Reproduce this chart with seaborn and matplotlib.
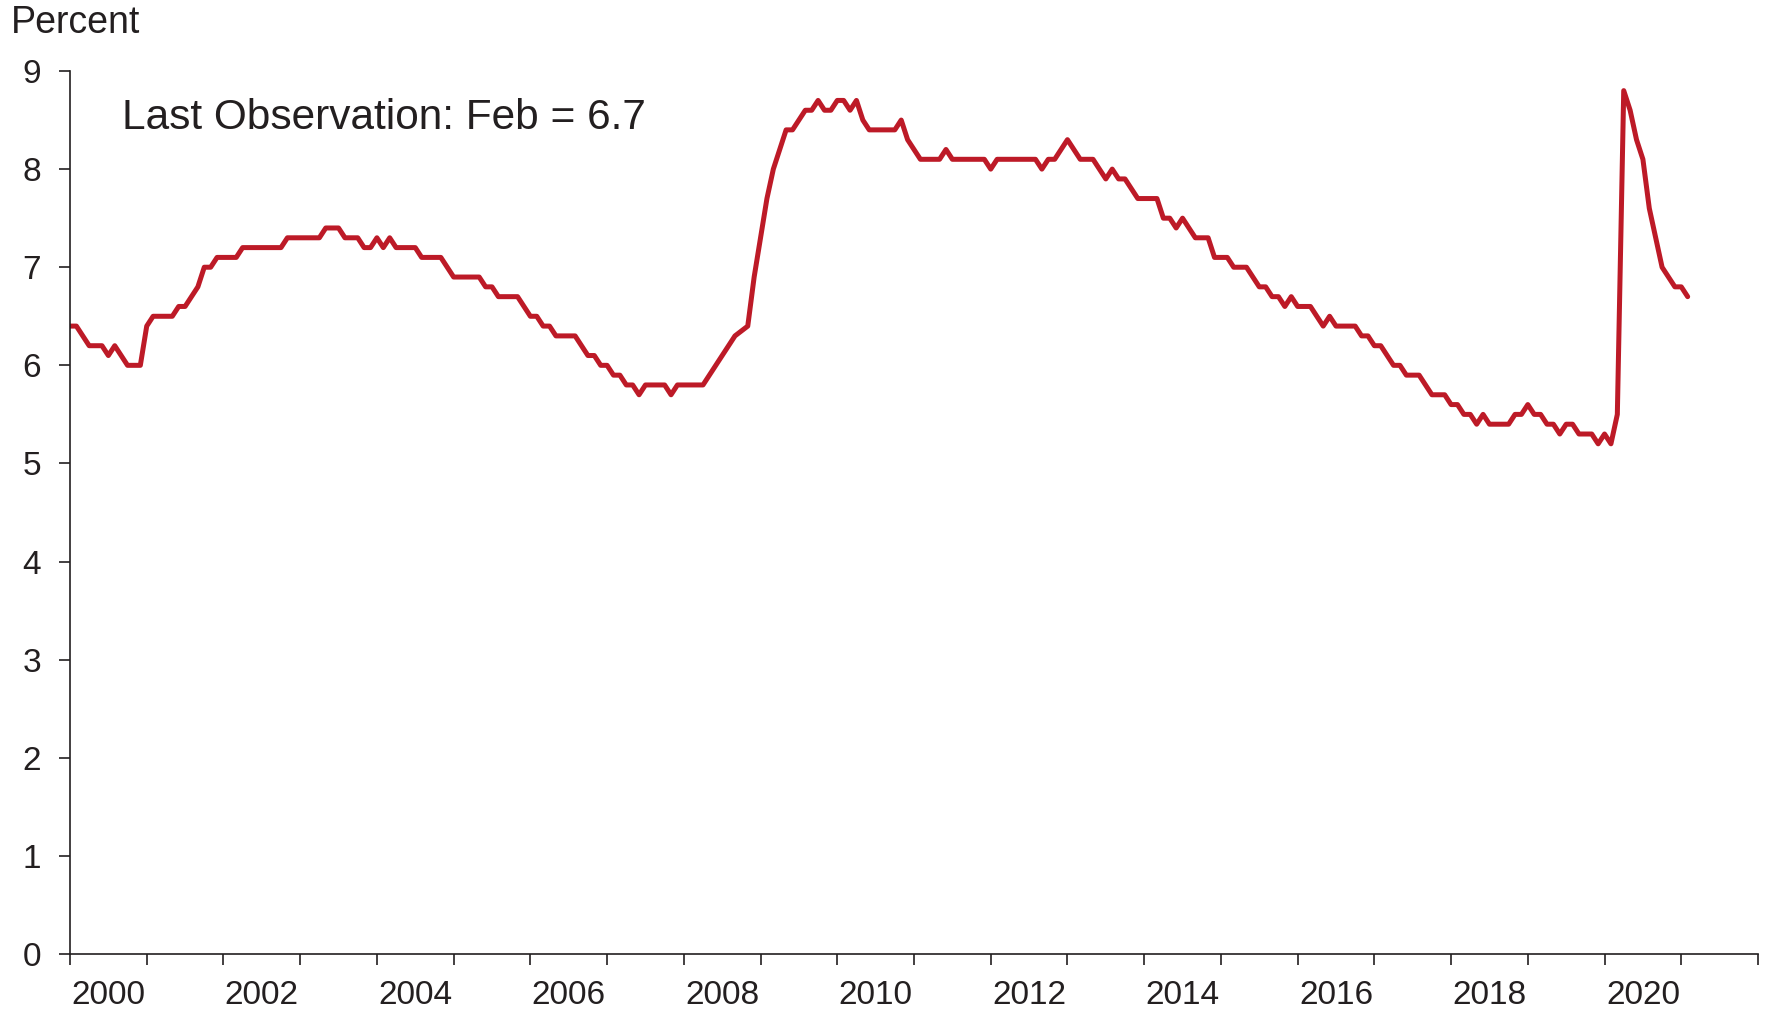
import numpy as np
import pandas as pd
import matplotlib
matplotlib.use("Agg")
import matplotlib.pyplot as plt
import seaborn as sns
from matplotlib import font_manager
from matplotlib.ticker import MultipleLocator, FixedLocator, FixedFormatter, NullFormatter

# monthly values (percent), Jan 2000 - Feb 2021
y2000 = [6.4, 6.4, 6.3, 6.2, 6.2, 6.2, 6.1, 6.2, 6.1, 6.0, 6.0, 6.0]
y2001 = [6.4, 6.5, 6.5, 6.5, 6.5, 6.6, 6.6, 6.7, 6.8, 7.0, 7.0, 7.1]
y2002 = [7.1, 7.1, 7.1, 7.2, 7.2, 7.2, 7.2, 7.2, 7.2, 7.2, 7.3, 7.3]
y2003 = [7.3, 7.3, 7.3, 7.3, 7.4, 7.4, 7.4, 7.3, 7.3, 7.3, 7.2, 7.2]
y2004 = [7.3, 7.2, 7.3, 7.2, 7.2, 7.2, 7.2, 7.1, 7.1, 7.1, 7.1, 7.0]
y2005 = [6.9, 6.9, 6.9, 6.9, 6.9, 6.8, 6.8, 6.7, 6.7, 6.7, 6.7, 6.6]
y2006 = [6.5, 6.5, 6.4, 6.4, 6.3, 6.3, 6.3, 6.3, 6.2, 6.1, 6.1, 6.0]
y2007 = [6.0, 5.9, 5.9, 5.8, 5.8, 5.7, 5.8, 5.8, 5.8, 5.8, 5.7, 5.8]
y2008 = [5.8, 5.8, 5.8, 5.8, 5.9, 6.0, 6.1, 6.2, 6.3, 6.35, 6.4, 6.9]
y2009 = [7.3, 7.7, 8.0, 8.2, 8.4, 8.4, 8.5, 8.6, 8.6, 8.7, 8.6, 8.6]
y2010 = [8.7, 8.7, 8.6, 8.7, 8.5, 8.4, 8.4, 8.4, 8.4, 8.4, 8.5, 8.3]
y2011 = [8.2, 8.1, 8.1, 8.1, 8.1, 8.2, 8.1, 8.1, 8.1, 8.1, 8.1, 8.1]
y2012 = [8.0, 8.1, 8.1, 8.1, 8.1, 8.1, 8.1, 8.1, 8.0, 8.1, 8.1, 8.2]
y2013 = [8.3, 8.2, 8.1, 8.1, 8.1, 8.0, 7.9, 8.0, 7.9, 7.9, 7.8, 7.7]
y2014 = [7.7, 7.7, 7.7, 7.5, 7.5, 7.4, 7.5, 7.4, 7.3, 7.3, 7.3, 7.1]
y2015 = [7.1, 7.1, 7.0, 7.0, 7.0, 6.9, 6.8, 6.8, 6.7, 6.7, 6.6, 6.7]
y2016 = [6.6, 6.6, 6.6, 6.5, 6.4, 6.5, 6.4, 6.4, 6.4, 6.4, 6.3, 6.3]
y2017 = [6.2, 6.2, 6.1, 6.0, 6.0, 5.9, 5.9, 5.9, 5.8, 5.7, 5.7, 5.7]
y2018 = [5.6, 5.6, 5.5, 5.5, 5.4, 5.5, 5.4, 5.4, 5.4, 5.4, 5.5, 5.5]
y2019 = [5.6, 5.5, 5.5, 5.4, 5.4, 5.3, 5.4, 5.4, 5.3, 5.3, 5.3, 5.2]
y2020 = [5.3, 5.2, 5.5, 8.8, 8.6, 8.3, 8.1, 7.6, 7.3, 7.0, 6.9, 6.8]
y2021 = [6.8, 6.7]

year_labels = ["2000", "2002", "2004", "2006", "2008", "2010",
               "2012", "2014", "2016", "2018", "2020"]
y_ticks = [0, 1, 2, 3, 4, 5, 6, 7, 8, 9]
note = "Last Observation: Feb = 6.7"

values = (y2000 + y2001 + y2002 + y2003 + y2004 + y2005 + y2006 + y2007
          + y2008 + y2009 + y2010 + y2011 + y2012 + y2013 + y2014 + y2015
          + y2016 + y2017 + y2018 + y2019 + y2020 + y2021)
df = pd.DataFrame({"date": 2000 + np.arange(len(values)) / 12, "rate": values})

sns.set_style("ticks")
plt.rcParams["font.family"] = ["Liberation Sans", "DejaVu Sans"]
text_color = "#231F20"

# tick numbers in the reference are a narrow face
installed = {f.name for f in font_manager.fontManager.ttflist}
if "Liberation Sans Narrow" in installed:
    tick_font, tick_size = "Liberation Sans Narrow", 26
else:
    tick_font, tick_size = "Liberation Sans", 24

fig = plt.figure(figsize=(17.71, 10.17), dpi=100)
ax = fig.add_axes([70 / 1771, 1 - 954 / 1017, (1758 - 70) / 1771, (954 - 71) / 1017])

sns.lineplot(data=df, x="date", y="rate", color="#BD1A27", linewidth=3.6, ax=ax)

ax.set_xlim(2000, 2022)
ax.set_ylim(0, 9)
ax.set_xlabel("")
ax.set_ylabel("")

# year boundaries get tick marks, labels sit mid-year
ax.xaxis.set_major_locator(MultipleLocator(1))
ax.xaxis.set_major_formatter(NullFormatter())
ax.xaxis.set_minor_locator(FixedLocator([int(y) + 0.5 for y in year_labels]))
ax.xaxis.set_minor_formatter(FixedFormatter(year_labels))
ax.set_yticks(y_ticks)

ax.tick_params(axis="x", which="major", length=8, width=1.2, color=text_color)
ax.tick_params(axis="x", which="minor", length=0, pad=19, labelsize=tick_size,
               labelcolor=text_color)
ax.tick_params(axis="y", length=8, width=1.2, pad=13, labelsize=tick_size,
               color=text_color, labelcolor=text_color)
for lab in ax.get_xticklabels(minor=True) + ax.get_yticklabels():
    lab.set_fontfamily([tick_font, "DejaVu Sans"])

sns.despine(ax=ax)
for side in ["left", "bottom"]:
    ax.spines[side].set_color(text_color)
    ax.spines[side].set_linewidth(1.2)

fig.text(11 / 1771, 1 - 33 / 1017, "Percent", fontsize=27, color=text_color, va="baseline")
fig.text(122 / 1771, 1 - 129 / 1017, note, fontsize=30.5, color=text_color, va="baseline",
         bbox=dict(facecolor="white", edgecolor="none", pad=6))

fig.savefig("out.png", dpi=100)
